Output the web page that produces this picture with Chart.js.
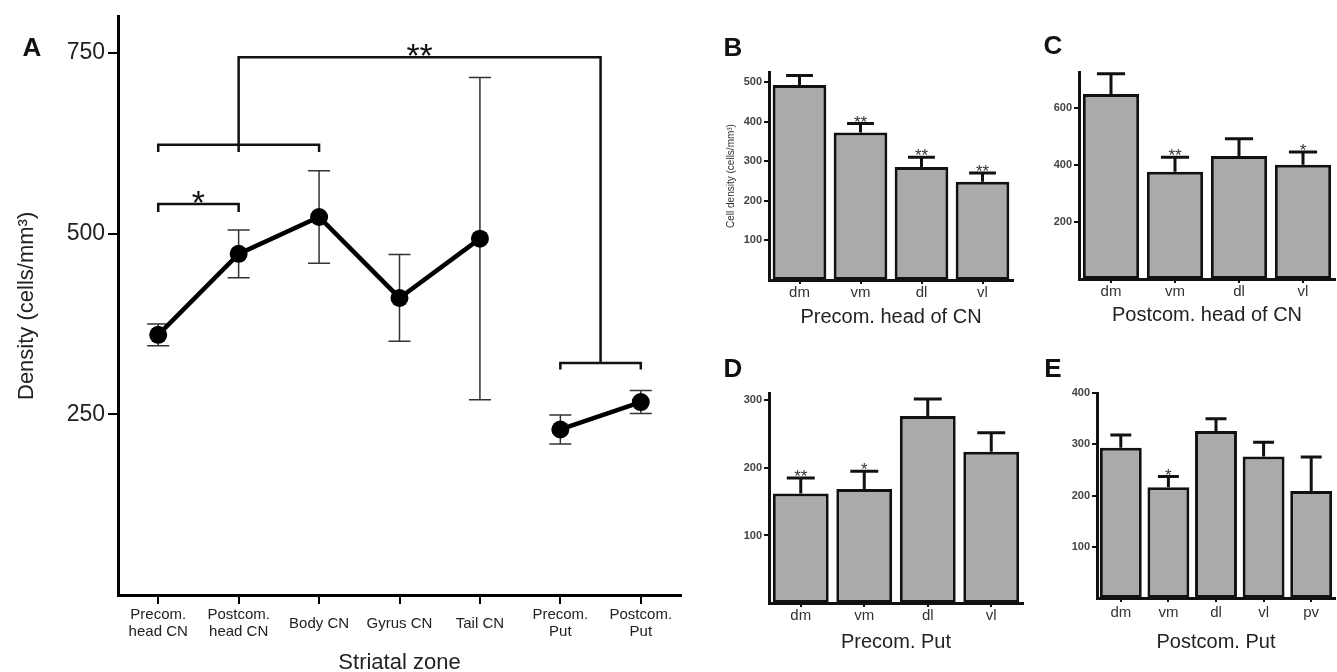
<!DOCTYPE html>
<html>
<head>
<meta charset="utf-8">
<script src="https://cdn.jsdelivr.net/npm/chart.js@4.4.0/dist/chart.umd.min.js"></script>
<style>
  body { margin: 0; background: #fff; }
  #fig { position: relative; width: 1337px; height: 672px; overflow: hidden; font-family: 'Liberation Sans', Arial, sans-serif; }
  canvas { position: absolute; }
  .panel-letter { position: absolute; font-weight: bold; font-size: 26px; line-height: 26px; transform: translate(-50%, -50%); color: #111; }
</style>
</head>
<body>
<div id="fig">
  <canvas id="chartA"></canvas>
  <canvas id="chartB"></canvas>
  <canvas id="chartC"></canvas>
  <canvas id="chartD"></canvas>
  <canvas id="chartE"></canvas>
  <div class="panel-letter" style="left:32px;top:47px">A</div>
  <div class="panel-letter" style="left:733px;top:47px">B</div>
  <div class="panel-letter" style="left:1053px;top:45px">C</div>
  <div class="panel-letter" style="left:733px;top:368px">D</div>
  <div class="panel-letter" style="left:1053px;top:368px">E</div>
</div>
<script>
// Panel A: density per striatal zone (mean +/- SEM)
const zoneLabels = [['Precom.', 'head CN'], ['Postcom.', 'head CN'], 'Body CN', 'Gyrus CN', 'Tail CN', ['Precom.', 'Put'], ['Postcom.', 'Put']];
const cnDensity = [360, 472, 523, 411, 493, null, null];
const putDensity = [null, null, null, null, null, 229, 267];
const zoneSem = [15, 33, 64, 60, 223, 20, 16];
const densityTicks = [250, 500, 750];
// significance brackets, in category index / density units
const sigBrackets = [
    { from: 0, to: 1, level: 541, leftEnd: 530, rightEnd: 530, mark: '*' },
    { from: 0, to: 2, level: 623, leftEnd: 613, rightEnd: 613, mark: '' },
    { from: 5, to: 6, level: 321, leftEnd: 312, rightEnd: 312, mark: '' },
    { from: 1, to: 5.5, level: 744, leftEnd: 613, rightEnd: 321, mark: '**' }
];

// Panels B-E: subregions
const subregions = ['dm', 'vm', 'dl', 'vl'];
const precomHeadMean = [492, 372, 285, 248];
const precomHeadSem = [24, 23, 25, 22];
const precomHeadSig = ['', '**', '**', '**'];
const precomHeadTicks = [100, 200, 300, 400, 500];

const postcomHeadMean = [648, 376, 431, 400];
const postcomHeadSem = [71, 50, 60, 45];
const postcomHeadSig = ['', '**', '', '*'];
const postcomHeadTicks = [200, 400, 600];

const precomPutMean = [162, 169, 277, 224];
const precomPutSem = [23, 26, 25, 28];
const precomPutSig = ['**', '*', '', ''];
const precomPutTicks = [100, 200, 300];

const postcomPutRegions = ['dm', 'vm', 'dl', 'vl', 'pv'];
const postcomPutMean = [293, 216, 326, 276, 209];
const postcomPutSem = [25, 21, 24, 28, 66];
const postcomPutSig = ['', '*', '', '', ''];
const postcomPutTicks = [100, 200, 300, 400];

Chart.defaults.font.family = "'Liberation Sans', Arial, sans-serif";

function placeCanvas(id, box) {
    const canvas = document.getElementById(id);
    canvas.width = box.w;
    canvas.height = box.h;
    canvas.style.left = box.left + 'px';
    canvas.style.top = box.top + 'px';
    return canvas;
}

// error bars for the line panel, drawn under the points
const zoneErrorPlugin = {
    id: 'zoneErrors',
    beforeDatasetsDraw(chart) {
        const { ctx, scales: { x, y } } = chart;
        ctx.save();
        ctx.strokeStyle = '#333';
        ctx.lineWidth = 1.5;
        zoneSem.forEach((sem, i) => {
            const mean = cnDensity[i] !== null ? cnDensity[i] : putDensity[i];
            const px = x.getPixelForValue(i);
            const hi = y.getPixelForValue(mean + sem);
            const lo = y.getPixelForValue(mean - sem);
            ctx.beginPath();
            ctx.moveTo(px, hi); ctx.lineTo(px, lo);
            ctx.moveTo(px - 11, hi); ctx.lineTo(px + 11, hi);
            ctx.moveTo(px - 11, lo); ctx.lineTo(px + 11, lo);
            ctx.stroke();
        });
        ctx.restore();
    }
};

const bracketPlugin = {
    id: 'brackets',
    afterDatasetsDraw(chart) {
        const { ctx, scales: { x, y } } = chart;
        ctx.save();
        ctx.strokeStyle = '#111';
        ctx.lineWidth = 2.5;
        ctx.fillStyle = '#111';
        ctx.font = "34px 'Liberation Sans', Arial, sans-serif";
        ctx.textAlign = 'center';
        ctx.textBaseline = 'alphabetic';
        sigBrackets.forEach(b => {
            const x1 = x.getPixelForValue(b.from);
            const x2 = x.getPixelForValue(b.to);
            const yl = y.getPixelForValue(b.level);
            ctx.beginPath();
            ctx.moveTo(x1, y.getPixelForValue(b.leftEnd));
            ctx.lineTo(x1, yl);
            ctx.lineTo(x2, yl);
            ctx.lineTo(x2, y.getPixelForValue(b.rightEnd));
            ctx.stroke();
            if (b.mark) ctx.fillText(b.mark, (x1 + x2) / 2, yl + 10);
        });
        ctx.restore();
    }
};

function barErrorPlugin(means, sems, marks) {
    return {
        id: 'barErrors',
        afterDatasetsDraw(chart) {
            const { ctx, scales: { y } } = chart;
            const meta = chart.getDatasetMeta(0);
            ctx.save();
            ctx.strokeStyle = '#111';
            ctx.lineWidth = 3;
            ctx.fillStyle = '#333';
            ctx.font = "17px 'Liberation Sans', Arial, sans-serif";
            ctx.textAlign = 'center';
            means.forEach((m, i) => {
                const bar = meta.data[i];
                const half = bar.width * 0.25;
                const top = y.getPixelForValue(m + sems[i]);
                ctx.beginPath();
                ctx.moveTo(bar.x, y.getPixelForValue(m));
                ctx.lineTo(bar.x, top);
                ctx.moveTo(bar.x - half, top);
                ctx.lineTo(bar.x + half, top);
                ctx.stroke();
                if (marks[i]) ctx.fillText(marks[i], bar.x, top + 4);
            });
            ctx.restore();
        }
    };
}

// Panel A
const boxA = { left: 0, top: 0, w: 690, h: 676 };
new Chart(placeCanvas('chartA', boxA), {
    type: 'line',
    data: {
        labels: zoneLabels,
        datasets: [
            { data: cnDensity, borderColor: '#000', borderWidth: 4.5, pointRadius: 9, pointBackgroundColor: '#000', pointBorderWidth: 0 },
            { data: putDensity, borderColor: '#000', borderWidth: 4.5, pointRadius: 9, pointBackgroundColor: '#000', pointBorderWidth: 0 }
        ]
    },
    options: {
        responsive: false,
        animation: false,
        layout: { padding: { top: 12, right: 7, left: 0, bottom: 0 } },
        plugins: { legend: { display: false }, tooltip: { enabled: false } },
        scales: {
            x: {
                offset: true,
                grid: { offset: false, drawOnChartArea: false, color: '#000', lineWidth: 2, tickLength: 9 },
                border: { color: '#000', width: 3 },
                ticks: { color: '#222', font: { size: 15, lineHeight: 1.13 }, padding: 11, crossAlign: 'center', maxRotation: 0, autoSkip: false },
                title: { display: true, text: 'Striatal zone', color: '#222', font: { size: 22 }, padding: { top: 0, bottom: 0 } },
                afterFit(s) { s.height = 81; }
            },
            y: {
                min: 0,
                max: 800,
                afterBuildTicks(s) { s.ticks = densityTicks.map(v => ({ value: v })); },
                grid: { drawOnChartArea: false, color: '#000', lineWidth: 2, tickLength: 10 },
                border: { color: '#000', width: 3 },
                ticks: { color: '#222', font: { size: 23 }, padding: 3 },
                title: { display: true, text: 'Density (cells/mm³)', color: '#222', font: { size: 22 }, padding: { top: 14, bottom: 0 } },
                afterFit(s) { s.width = 118; }
            }
        }
    },
    plugins: [zoneErrorPlugin, bracketPlugin]
});

function makeBarPanel(id, box, area, cfg) {
    const canvas = placeCanvas(id, box);
    new Chart(canvas, {
        type: 'bar',
        data: {
            labels: cfg.labels,
            datasets: [{
                data: cfg.means,
                backgroundColor: '#aaaaaa',
                borderColor: '#111',
                borderWidth: 3,
                borderSkipped: false,
                barPercentage: 0.88,
                categoryPercentage: 1
            }]
        },
        options: {
            responsive: false,
            animation: false,
            layout: { padding: { left: 0, top: area.top - box.top, right: box.left + box.w - area.right, bottom: 0 } },
            plugins: { legend: { display: false }, tooltip: { enabled: false } },
            scales: {
                x: {
                    grid: { offset: false, drawOnChartArea: false, color: '#111', lineWidth: 2, tickLength: 4 },
                    border: { color: '#111', width: 3 },
                    ticks: { color: '#333', font: { size: 15 }, padding: cfg.labelPad },
                    title: { display: true, text: cfg.title, color: '#222', font: { size: 20 }, padding: { top: 0, bottom: box.top + box.h - cfg.titleY - 12 } },
                    afterFit(s) { s.height = box.top + box.h - area.bottom; }
                },
                y: {
                    min: 0,
                    max: cfg.yMax,
                    afterBuildTicks(s) { s.ticks = cfg.ticks.map(v => ({ value: v })); },
                    grid: { drawOnChartArea: false, color: '#111', lineWidth: 2, tickLength: 5 },
                    border: { color: '#111', width: 3 },
                    ticks: { color: '#444', font: { size: 11, weight: 'bold' }, padding: 2 },
                    title: { display: !!cfg.yTitle, text: cfg.yTitle || '', color: '#333', font: { size: 10 }, padding: { top: 35, bottom: 0 } },
                    afterFit(s) { s.width = area.left - box.left; }
                }
            }
        },
        plugins: [barErrorPlugin(cfg.means, cfg.sems, cfg.marks)]
    });
}

makeBarPanel('chartB', { left: 690, top: 20, w: 335, h: 310 }, { left: 769, top: 72, right: 1013, bottom: 280 }, {
    labels: subregions, means: precomHeadMean, sems: precomHeadSem, marks: precomHeadSig,
    ticks: precomHeadTicks, yMax: 525, title: 'Precom. head of CN', titleY: 317, labelPad: 0,
    yTitle: 'Cell density (cells/mm³)'
});
makeBarPanel('chartC', { left: 1030, top: 20, w: 307, h: 310 }, { left: 1079, top: 72, right: 1335, bottom: 279 }, {
    labels: subregions, means: postcomHeadMean, sems: postcomHeadSem, marks: postcomHeadSig,
    ticks: postcomHeadTicks, yMax: 725, title: 'Postcom. head of CN', titleY: 315, labelPad: 0
});
makeBarPanel('chartD', { left: 690, top: 345, w: 340, h: 320 }, { left: 769, top: 393, right: 1023, bottom: 603 }, {
    labels: subregions, means: precomPutMean, sems: precomPutSem, marks: precomPutSig,
    ticks: precomPutTicks, yMax: 311, title: 'Precom. Put', titleY: 642, labelPad: 0
});
makeBarPanel('chartE', { left: 1040, top: 345, w: 297, h: 320 }, { left: 1097, top: 393, right: 1335, bottom: 598 }, {
    labels: postcomPutRegions, means: postcomPutMean, sems: postcomPutSem, marks: postcomPutSig,
    ticks: postcomPutTicks, yMax: 400, title: 'Postcom. Put', titleY: 642, labelPad: 2
});
</script>
</body>
</html>
